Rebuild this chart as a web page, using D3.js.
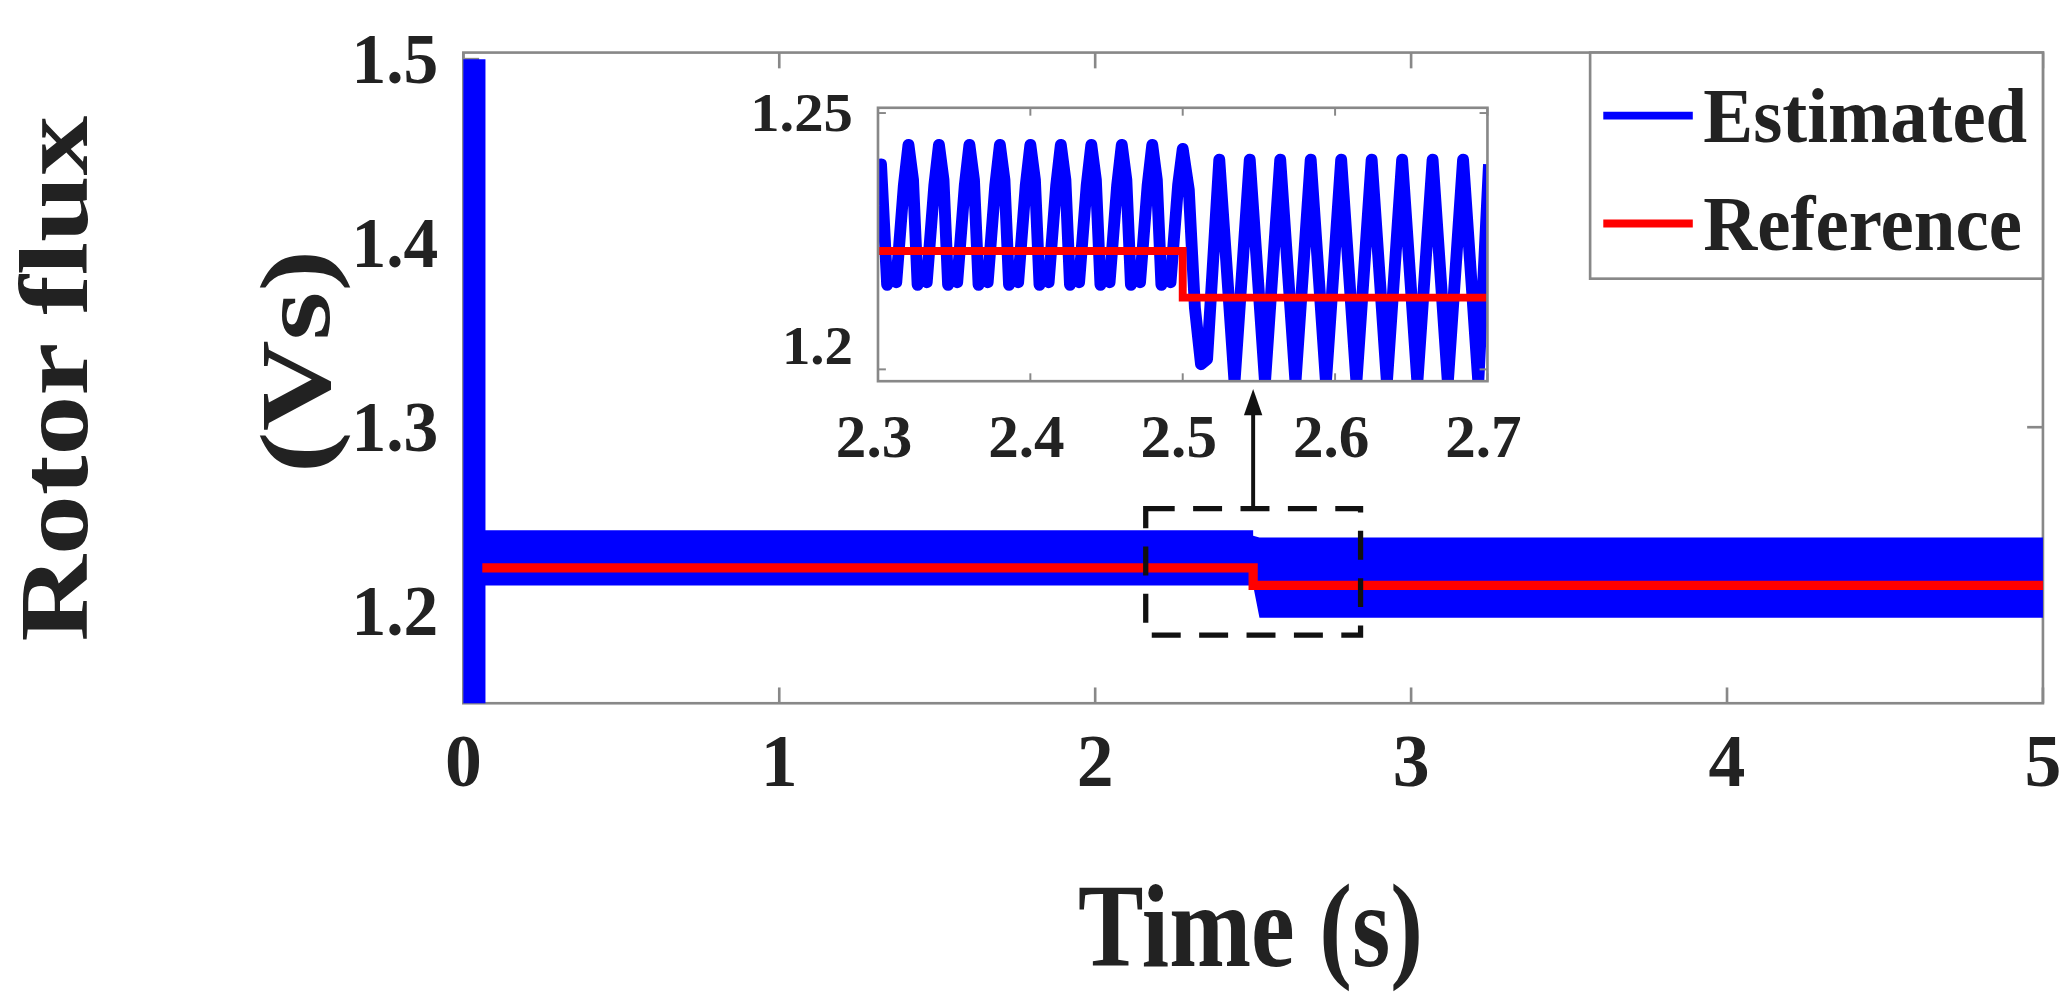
<!DOCTYPE html>
<html><head><meta charset="utf-8">
<script src="https://cdn.jsdelivr.net/npm/d3@7"></script>
<style>body{margin:0;background:#fff}svg{display:block}text{font-family:"Liberation Serif","Times New Roman",serif;font-weight:bold;fill:#222}</style>
</head><body><svg id="c" width="2064" height="999" viewBox="0 0 1568 760" preserveAspectRatio="none"></svg>
<script>
// ---- data ----
const xTicks=[0,1,2,3,4,5];
const yTicks=[1.2,1.3,1.4,1.5];
const insetXTicks=[2.3,2.4,2.5,2.6,2.7];
const insetYTicks=[1.2,1.25];
const seriesNames=["Estimated","Reference"];
// main estimated envelope (dense oscillation band)
const bandT=[0.06,2.5,2.5,2.52,5];
const bandHi=[1.244,1.244,1.241,1.240,1.240];
const bandLo=[1.214,1.214,1.214,1.1965,1.1965];
// start-up transient
const spikeT=[0.0,0.07];
const spikeLo=[1.15,1.15];
const spikeHi=[1.5,1.5];
// reference flux
const refT=[0.06,2.5,2.5,5];
const refV=[1.2236,1.2236,1.214,1.214];
// inset estimated waveform (2.3 - 2.7 s)
const insT=[2.300,2.302,2.306,2.309,2.312,2.317,2.320,2.323,2.326,2.329,2.332,2.337,2.340,2.343,2.346,2.349,2.352,2.357,2.360,2.363,2.366,2.369,2.372,2.377,2.380,2.383,2.386,2.389,2.392,2.397,2.400,2.403,2.406,2.409,2.412,2.417,2.420,2.423,2.426,2.429,2.432,2.437,2.440,2.443,2.446,2.449,2.452,2.457,2.460,2.463,2.466,2.469,2.472,2.477,2.480,2.483,2.486,2.489,2.492,2.497,2.500,2.504,2.508,2.512,2.516,2.524,2.534,2.544,2.554,2.564,2.574,2.584,2.594,2.604,2.614,2.624,2.634,2.644,2.654,2.664,2.674,2.684,2.694,2.701];
const insV=[1.232,1.240,1.2165,1.2195,1.217,1.236,1.2438,1.237,1.2165,1.2195,1.217,1.236,1.2438,1.237,1.2165,1.2195,1.217,1.236,1.2438,1.237,1.2165,1.2195,1.217,1.236,1.2438,1.237,1.2165,1.2195,1.217,1.236,1.2438,1.237,1.2165,1.2195,1.217,1.236,1.2438,1.237,1.2165,1.2195,1.217,1.236,1.2438,1.237,1.2165,1.2195,1.217,1.236,1.2438,1.237,1.2165,1.2195,1.217,1.236,1.2438,1.237,1.2165,1.2195,1.217,1.236,1.2430,1.235,1.212,1.201,1.202,1.2409,1.1975,1.2409,1.1975,1.2409,1.1975,1.2409,1.1975,1.2409,1.1975,1.2409,1.1975,1.2409,1.1975,1.2409,1.1975,1.2409,1.1975,1.2400];
const insRefT=[2.3,2.5,2.5,2.7];
const insRefV=[1.2231,1.2231,1.214,1.214];
// zoom box region
const boxT=[2.16,2.84], boxV=[1.187,1.2557];

// ---- drawing ----
const svg=d3.select("#c");
const L=352,R=1552,T=40,B=535;
const x=d3.scaleLinear().domain([0,5]).range([L,R]);
const y=d3.scaleLinear().domain([1.15,1.5]).range([B,45]);
const blue="#0000ff",red="#ff0000";

svg.append("rect").attr("x",L).attr("y",T).attr("width",R-L).attr("height",B-T).attr("fill","none").attr("stroke","#888").attr("stroke-width",2);
xTicks.forEach(v=>{svg.append("line").attr("x1",x(v)).attr("x2",x(v)).attr("y1",B).attr("y2",B-12).attr("stroke","#888").attr("stroke-width",2);
 svg.append("line").attr("x1",x(v)).attr("x2",x(v)).attr("y1",T).attr("y2",T+12).attr("stroke","#888").attr("stroke-width",2);
 svg.append("text").attr("x",x(v)).attr("y",598).attr("text-anchor","middle").attr("font-size",56).text(d3.format("d")(v));});
yTicks.forEach(v=>{svg.append("line").attr("x1",L).attr("x2",L+12).attr("y1",y(v)).attr("y2",y(v)).attr("stroke","#888").attr("stroke-width",2);
 svg.append("line").attr("x1",R).attr("x2",R-12).attr("y1",y(v)).attr("y2",y(v)).attr("stroke","#888").attr("stroke-width",2);
 svg.append("text").attr("x",333).attr("y",y(v)+18).attr("text-anchor","end").attr("font-size",54).attr("textLength",66).attr("lengthAdjust","spacingAndGlyphs").text(d3.format(".1f")(v));});

const band=bandT.map((t,i)=>({t,hi:bandHi[i],lo:bandLo[i]}));
svg.append("path").datum(band).attr("fill",blue).attr("d",d3.area().x(d=>x(d.t)).y0(d=>y(d.lo)).y1(d=>y(d.hi)));
const sp=spikeT.map((t,i)=>({t,hi:spikeHi[i],lo:spikeLo[i]}));
svg.append("path").datum(sp).attr("fill",blue).attr("d",d3.area().x(d=>x(d.t)).y0(d=>y(d.lo)).y1(d=>y(d.hi)));
svg.append("path").datum(refT.map((t,i)=>[t,refV[i]])).attr("fill","none").attr("stroke",red).attr("stroke-width",7)
 .attr("d",d3.line().x(d=>x(d[0])).y(d=>y(d[1])));

svg.append("rect").attr("x",x(boxT[0])).attr("y",y(boxV[1])).attr("width",x(boxT[1])-x(boxT[0])).attr("height",y(boxV[0])-y(boxV[1]))
 .attr("fill","none").attr("stroke","#111").attr("stroke-width",4).attr("stroke-dasharray","22,14");
const ax=952;
svg.append("line").attr("x1",ax).attr("x2",ax).attr("y1",y(boxV[1])).attr("y2",312).attr("stroke","#111").attr("stroke-width",3);
svg.append("path").attr("d",`M${ax-7},316 L${ax},296 L${ax+7},316 Z`).attr("fill","#111");

const iL=667,iR=1130,iT=82,iB=290;
const ix=d3.scaleLinear().domain([2.3,2.7]).range([iL,iR]);
const iy=d3.scaleLinear().domain([1.2,1.25]).range([281,86]);
svg.append("rect").attr("x",iL).attr("y",iT).attr("width",iR-iL).attr("height",iB-iT).attr("fill","#fff");
svg.append("defs").append("clipPath").attr("id","ic").append("rect").attr("x",iL).attr("y",iT).attr("width",iR-iL).attr("height",iB-iT);
const ig=svg.append("g").attr("clip-path","url(#ic)");
ig.append("path").datum(insT.map((t,i)=>[t,insV[i]])).attr("fill","none").attr("stroke",blue).attr("stroke-width",9).attr("stroke-linejoin","round")
 .attr("d",d3.line().x(d=>ix(d[0])).y(d=>iy(d[1])));
ig.append("path").datum(insRefT.map((t,i)=>[t,insRefV[i]])).attr("fill","none").attr("stroke",red).attr("stroke-width",6)
 .attr("d",d3.line().x(d=>ix(d[0])).y(d=>iy(d[1])));
svg.append("rect").attr("x",iL).attr("y",iT).attr("width",iR-iL).attr("height",iB-iT).attr("fill","none").attr("stroke","#888").attr("stroke-width",2);
insetXTicks.forEach(v=>{svg.append("line").attr("x1",ix(v)).attr("x2",ix(v)).attr("y1",iB).attr("y2",iB-6).attr("stroke","#888").attr("stroke-width",1.5);
 svg.append("line").attr("x1",ix(v)).attr("x2",ix(v)).attr("y1",iT).attr("y2",iT+6).attr("stroke","#888").attr("stroke-width",1.5);
 svg.append("text").attr("x",ix(v)-3).attr("y",348).attr("text-anchor","middle").attr("font-size",46).attr("textLength",58).attr("lengthAdjust","spacingAndGlyphs").text(d3.format(".1f")(v));});
insetYTicks.forEach(v=>{svg.append("line").attr("x1",iL).attr("x2",iL+6).attr("y1",iy(v)).attr("y2",iy(v)).attr("stroke","#888").attr("stroke-width",1.5);
 svg.append("line").attr("x1",iR).attr("x2",iR-6).attr("y1",iy(v)).attr("y2",iy(v)).attr("stroke","#888").attr("stroke-width",1.5);
 const s=v===1.25?"1.25":"1.2";
 svg.append("text").attr("x",648).attr("y",iy(v)+(v===1.25?14:-4)).attr("text-anchor","end").attr("font-size",42).attr("textLength",s.length===4?78:54).attr("lengthAdjust","spacingAndGlyphs").text(s);});

svg.append("rect").attr("x",1208).attr("y",T).attr("width",R-1208).attr("height",172).attr("fill","#fff").attr("stroke","#888").attr("stroke-width",2);
[[blue,88],[red,170]].forEach(([c,yy],i)=>{
 svg.append("line").attr("x1",1218).attr("x2",1286).attr("y1",yy).attr("y2",yy).attr("stroke",c).attr("stroke-width",6);
 svg.append("text").attr("x",1294).attr("y",yy+20).attr("font-size",60).attr("textLength",i?242:246).attr("lengthAdjust","spacingAndGlyphs").text(seriesNames[i]);});

svg.append("text").attr("transform","translate(66,288) rotate(-90)").attr("text-anchor","middle").attr("font-size",74).attr("textLength",400).attr("lengthAdjust","spacingAndGlyphs").text("Rotor flux");
svg.append("text").attr("transform","translate(250,275) rotate(-90)").attr("text-anchor","middle").attr("font-size",76).attr("textLength",170).attr("lengthAdjust","spacingAndGlyphs").text("(Vs)");
svg.append("text").attr("x",950).attr("y",735).attr("text-anchor","middle").attr("font-size",90).attr("textLength",262).attr("lengthAdjust","spacingAndGlyphs").text("Time (s)");
</script></body></html>
